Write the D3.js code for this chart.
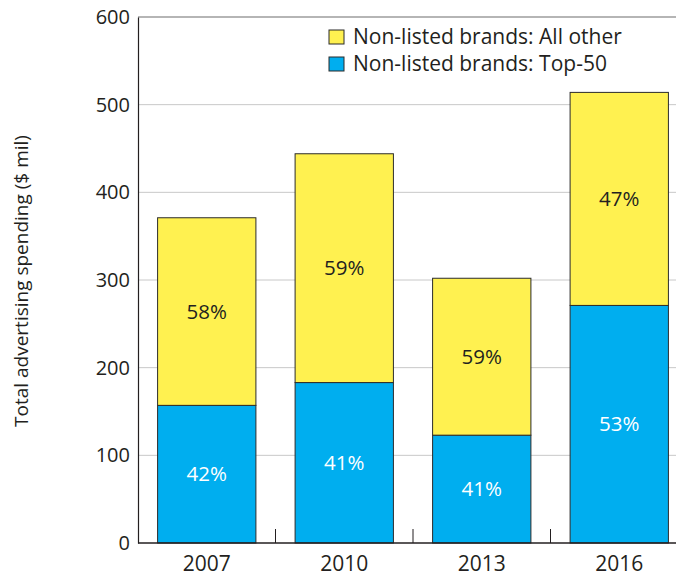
<!DOCTYPE html>
<html>
<head>
<meta charset="utf-8">
<script src="https://cdn.jsdelivr.net/npm/d3@7"></script>
<style>
  html, body { margin: 0; padding: 0; background: #fff; }
  svg { display: block; font-family: "Open Sans", "Noto Sans", sans-serif; }
</style>
</head>
<body>
<svg id="chart" width="676" height="576"></svg>
<script>
// Advertising spending by non-listed brands ($ mil)
const years = ["2007", "2010", "2013", "2016"];
const top50 = [157, 183, 123, 271];
const allOther = [214, 261, 179, 243];
const top50Pct = ["42%", "41%", "41%", "53%"];
const allOtherPct = ["58%", "59%", "59%", "47%"];
const yTicks = [0, 100, 200, 300, 400, 500, 600];
const seriesNames = ["Non-listed brands: All other", "Non-listed brands: Top-50"];

const colors = { top50: "#00aeef", other: "#fff150" };
const ink = "#231f20";

const svg = d3.select("#chart");
const plotLeft = 138, plotTop = 17, plotBottom = 543, plotRight = 688;

const x = d3.scaleBand().domain(years).range([plotLeft, plotRight]).padding(0);
const y = d3.scaleLinear().domain([0, 600]).range([plotBottom, plotTop]);
const barW = x.bandwidth() * 0.715;

// horizontal gridlines
svg.append("g")
  .selectAll("line")
  .data(yTicks.filter(d => d > 0 && d < 600))
  .join("line")
  .attr("x1", plotLeft).attr("x2", 676)
  .attr("y1", d => y(d)).attr("y2", d => y(d))
  .attr("stroke", "#c8c8c8").attr("stroke-width", 1);

// top frame line
svg.append("line")
  .attr("x1", plotLeft).attr("x2", 676)
  .attr("y1", y(600)).attr("y2", y(600))
  .attr("stroke", "#6d6d6d").attr("stroke-width", 1.2);

// stacked bars
const rows = years.map((yr, i) => ({ yr, a: top50[i], b: allOther[i], pa: top50Pct[i], pb: allOtherPct[i] }));
const g = svg.append("g");
const barX = d => x(d.yr) + (x.bandwidth() - barW) / 2;

g.selectAll("rect.top50")
  .data(rows).join("rect")
  .attr("class", "top50")
  .attr("x", barX).attr("width", barW)
  .attr("y", d => y(d.a)).attr("height", d => y(0) - y(d.a))
  .attr("fill", colors.top50).attr("stroke", "#2b2b2b").attr("stroke-width", 1);

g.selectAll("rect.other")
  .data(rows).join("rect")
  .attr("class", "other")
  .attr("x", barX).attr("width", barW)
  .attr("y", d => y(d.a + d.b)).attr("height", d => y(d.a) - y(d.a + d.b))
  .attr("fill", colors.other).attr("stroke", "#2b2b2b").attr("stroke-width", 1);

// percentage labels
g.selectAll("text.pa")
  .data(rows).join("text")
  .attr("class", "pa")
  .attr("x", d => x(d.yr) + x.bandwidth() / 2)
  .attr("y", d => (y(0) + y(d.a)) / 2)
  .attr("dy", "0.35em")
  .attr("text-anchor", "middle")
  .attr("font-size", 20.5)
  .attr("fill", "#fff")
  .text(d => d.pa);

g.selectAll("text.pb")
  .data(rows).join("text")
  .attr("class", "pb")
  .attr("x", d => x(d.yr) + x.bandwidth() / 2)
  .attr("y", d => (y(d.a) + y(d.a + d.b)) / 2)
  .attr("dy", "0.35em")
  .attr("text-anchor", "middle")
  .attr("font-size", 20.5)
  .attr("fill", ink)
  .text(d => d.pb);

// y axis
const yAxis = svg.append("g")
  .attr("transform", `translate(${plotLeft},0)`)
  .call(d3.axisLeft(y).tickValues(yTicks).tickSize(0).tickPadding(8));
yAxis.select(".domain").attr("stroke", ink).attr("stroke-width", 1.2);
yAxis.selectAll("text").attr("font-size", 20).attr("fill", ink)
  .attr("font-family", "\"Open Sans\", sans-serif");

// x axis: ticks sit between categories
const xAxis = svg.append("g")
  .attr("transform", `translate(0,${plotBottom})`);
xAxis.append("line")
  .attr("x1", plotLeft).attr("x2", 676)
  .attr("stroke", ink).attr("stroke-width", 1.4);
xAxis.selectAll("line.sep")
  .data(years.slice(1)).join("line")
  .attr("class", "sep")
  .attr("x1", d => x(d)).attr("x2", d => x(d))
  .attr("y1", 0).attr("y2", -14)
  .attr("stroke", ink).attr("stroke-width", 1);
xAxis.selectAll("text")
  .data(years).join("text")
  .attr("x", d => x(d) + x.bandwidth() / 2)
  .attr("y", 28)
  .attr("text-anchor", "middle")
  .attr("font-size", 21)
  .attr("fill", ink)
  .text(d => d);

// y axis title
svg.append("text")
  .attr("transform", `translate(28,281) rotate(-90)`)
  .attr("text-anchor", "middle")
  .attr("font-size", 19)
  .attr("fill", ink)
  .text("Total advertising spending ($ mil)");

// legend
const legend = svg.append("g").attr("transform", "translate(329,30)");
const legendItems = [
  { name: seriesNames[0], color: colors.other },
  { name: seriesNames[1], color: colors.top50 }
];
const li = legend.selectAll("g").data(legendItems).join("g")
  .attr("transform", (d, i) => `translate(0,${i * 27})`);
li.append("rect")
  .attr("width", 15).attr("height", 14)
  .attr("fill", d => d.color).attr("stroke", "#2b2b2b").attr("stroke-width", 1);
li.append("text")
  .attr("x", 24).attr("y", 7).attr("dy", "0.35em")
  .attr("font-size", 21).attr("fill", ink)
  .text(d => d.name);
</script>
</body>
</html>
